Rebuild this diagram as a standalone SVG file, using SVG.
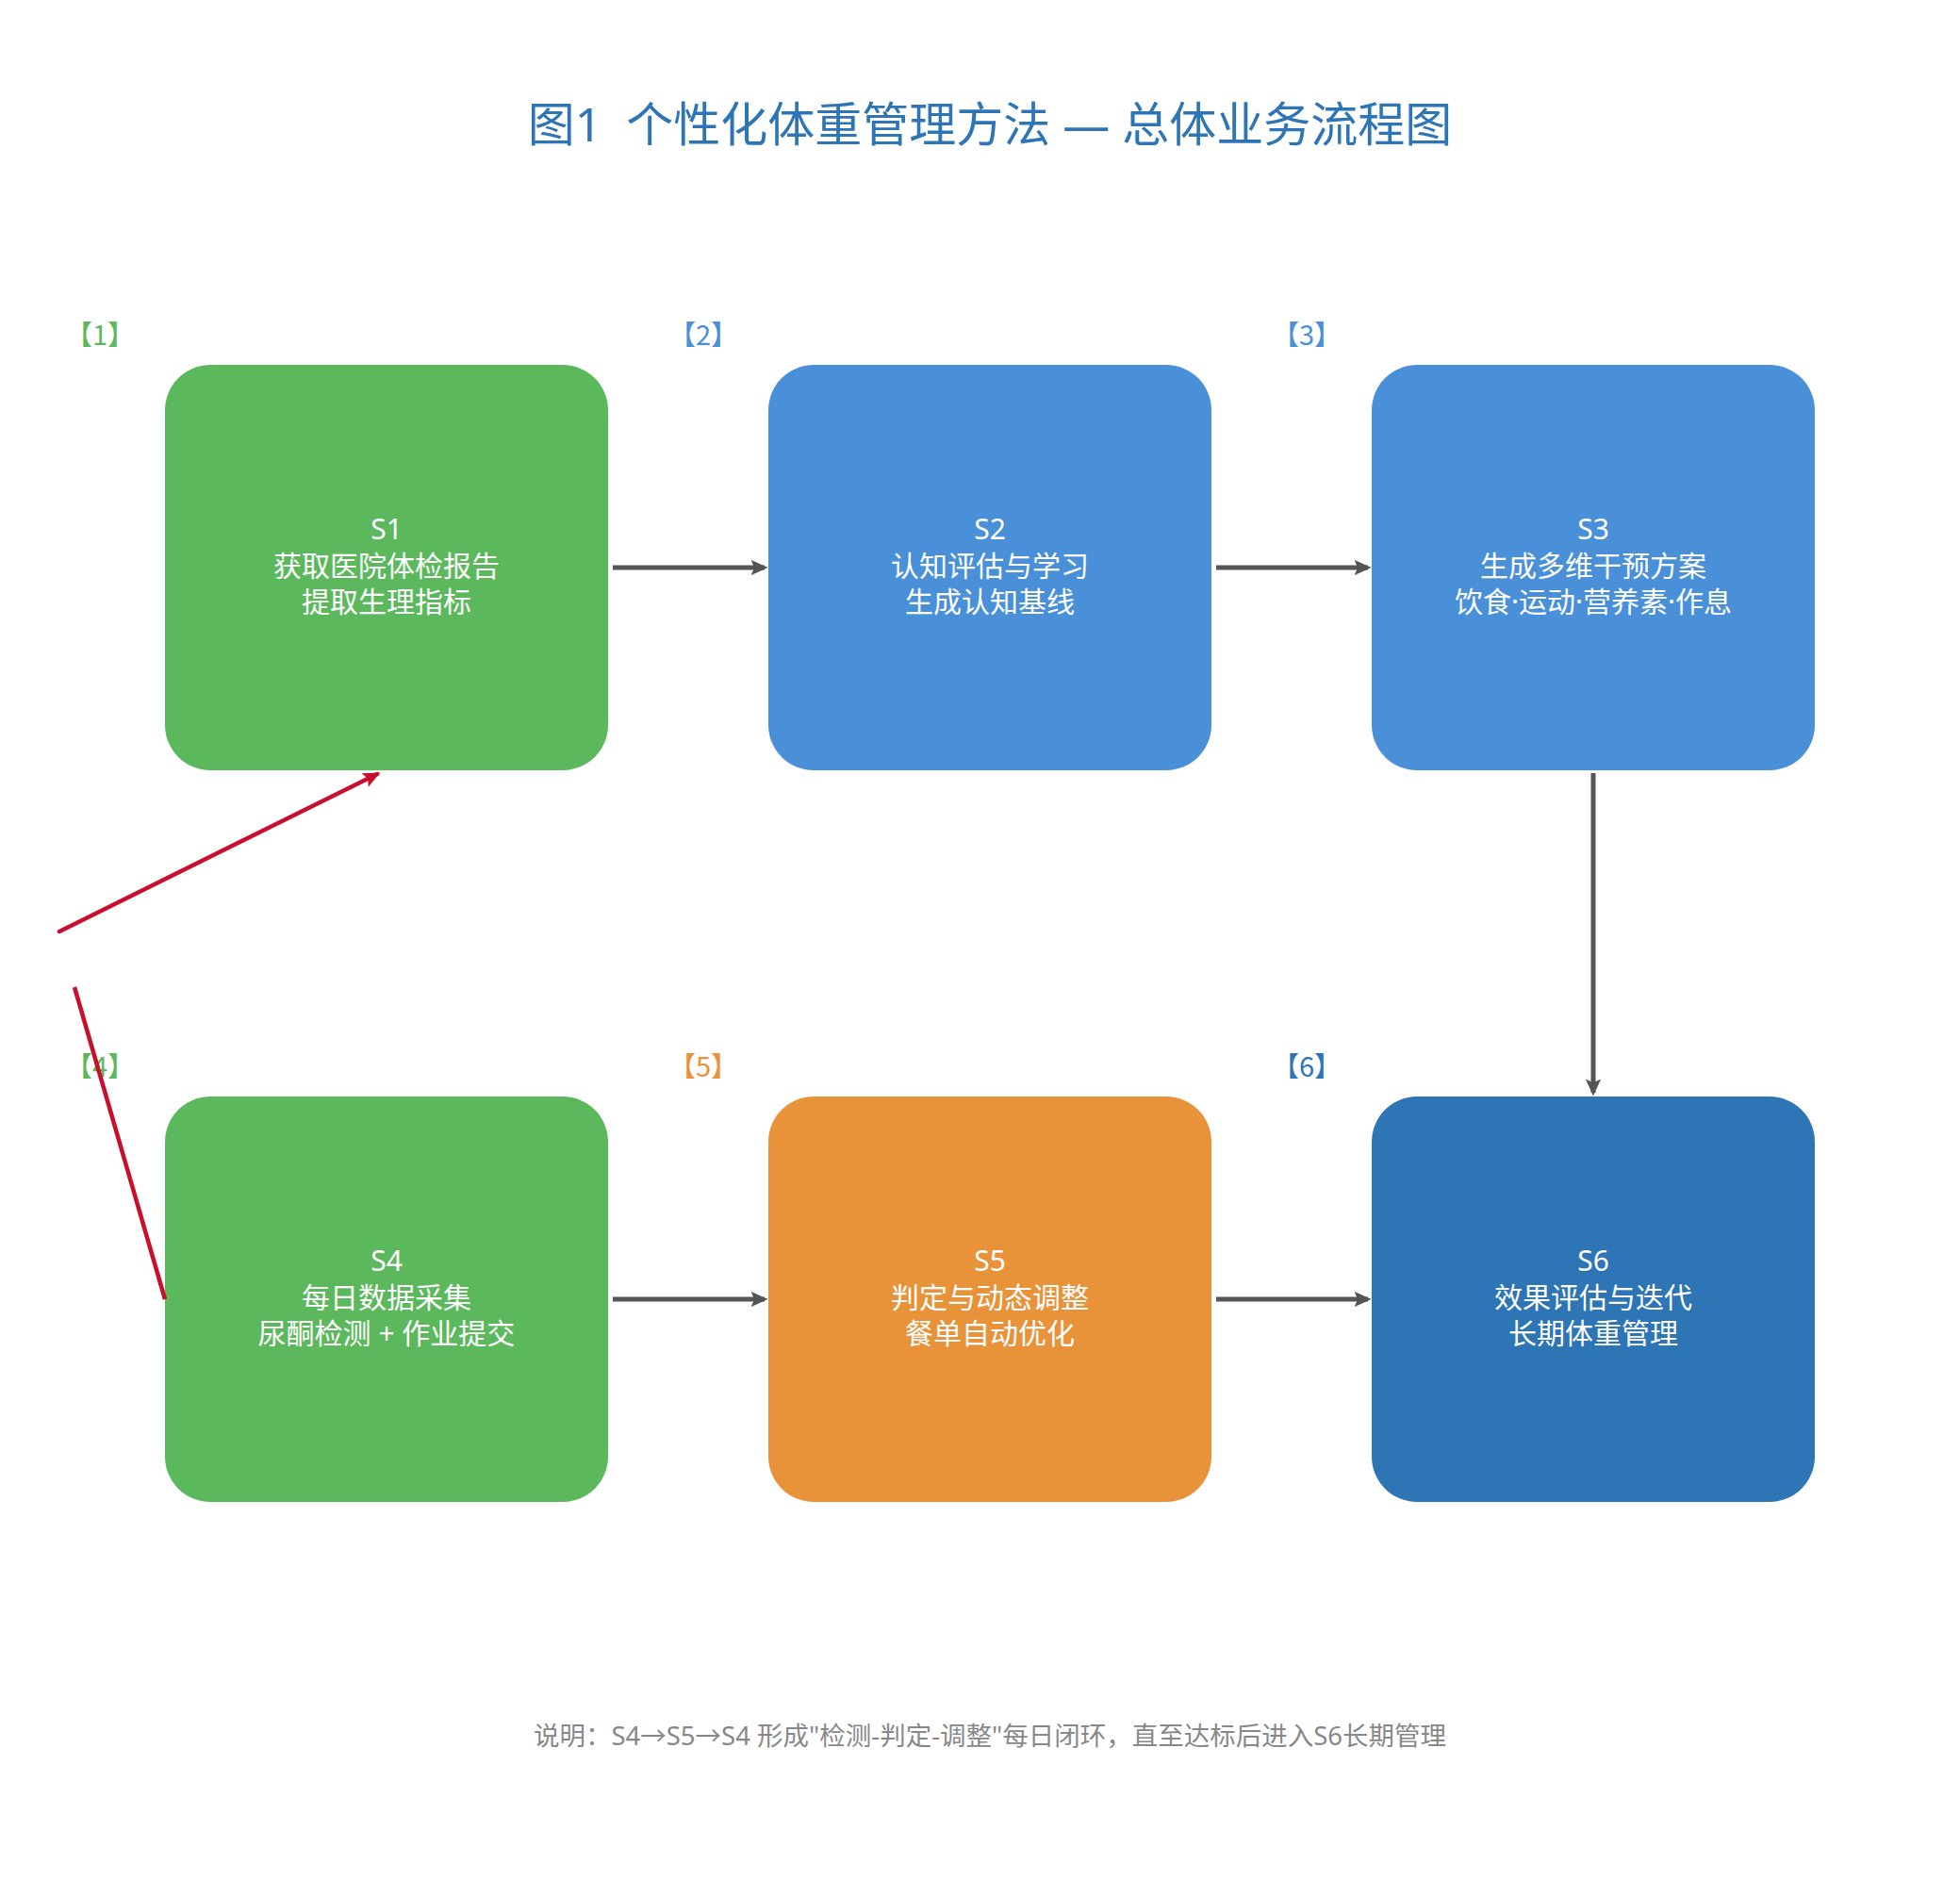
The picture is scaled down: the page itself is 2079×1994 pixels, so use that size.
<svg xmlns="http://www.w3.org/2000/svg" width="2079" height="1994" viewBox="0 0 2079 1994">
<defs>
<style>
text{font-family:"Noto Sans","Noto Sans CJK SC",sans-serif;}
.title{font-size:50px;fill:#2E75B6;text-anchor:middle;}
.nt{font-size:30px;fill:#FFFFFF;text-anchor:middle;}
.lbl{font-size:29px;text-anchor:middle;font-family:"Noto Sans CJK SC",sans-serif;}
.note{font-size:27.5px;fill:#888888;text-anchor:middle;}
.conn{stroke:#555555;stroke-width:5;fill:none;}
.red{stroke:#C8102E;stroke-width:4.5;fill:none;}
</style>
<marker id="ah" viewBox="0 0 10 10" refX="8" refY="5" markerWidth="3.6" markerHeight="3.6" orient="auto" markerUnits="strokeWidth">
<path d="M0,0.5 L10,5 L0,9.5 L2,5 Z" fill="#555555"/>
</marker>
<marker id="ahr" viewBox="0 0 10 10" refX="8" refY="5" markerWidth="4" markerHeight="4" orient="auto" markerUnits="strokeWidth">
<path d="M0,0.5 L10,5 L0,9.5 L2,5 Z" fill="#C8102E"/>
</marker>
</defs>
<rect width="2079" height="1994" fill="#FFFFFF"/>
<text class="title" x="1050" y="150" xml:space="preserve">图1  个性化体重管理方法 — 总体业务流程图</text>

<g id="S1">
<text class="lbl" x="106" y="366" fill="#5CB85C">【1】</text>
<rect x="175" y="387" width="470" height="430" rx="48" fill="#5CB85C"/>
<text class="nt" x="410" y="572">S1<tspan x="410" dy="39">获取医院体检报告</tspan><tspan x="410" dy="38">提取生理指标</tspan></text>
</g>
<g id="S2">
<text class="lbl" x="746" y="366" fill="#4A90D9">【2】</text>
<rect x="815" y="387" width="470" height="430" rx="48" fill="#4A90D9"/>
<text class="nt" x="1050" y="572">S2<tspan x="1050" dy="39">认知评估与学习</tspan><tspan x="1050" dy="38">生成认知基线</tspan></text>
</g>
<g id="S3">
<text class="lbl" x="1386" y="366" fill="#4A90D9">【3】</text>
<rect x="1455" y="387" width="470" height="430" rx="48" fill="#4A90D9"/>
<text class="nt" x="1690" y="572">S3<tspan x="1690" dy="39">生成多维干预方案</tspan><tspan x="1690" dy="38">饮食·运动·营养素·作息</tspan></text>
</g>
<g id="S4">
<text class="lbl" x="106" y="1142" fill="#5CB85C">【4】</text>
<rect x="175" y="1163" width="470" height="430" rx="48" fill="#5CB85C"/>
<text class="nt" x="410" y="1348">S4<tspan x="410" dy="39">每日数据采集</tspan><tspan x="410" dy="38">尿酮检测 + 作业提交</tspan></text>
</g>
<g id="S5">
<text class="lbl" x="746" y="1142" fill="#E8923A">【5】</text>
<rect x="815" y="1163" width="470" height="430" rx="48" fill="#E8923A"/>
<text class="nt" x="1050" y="1348">S5<tspan x="1050" dy="39">判定与动态调整</tspan><tspan x="1050" dy="38">餐单自动优化</tspan></text>
</g>
<g id="S6">
<text class="lbl" x="1386" y="1142" fill="#2E75B6">【6】</text>
<rect x="1455" y="1163" width="470" height="430" rx="48" fill="#2E75B6"/>
<text class="nt" x="1690" y="1348">S6<tspan x="1690" dy="39">效果评估与迭代</tspan><tspan x="1690" dy="38">长期体重管理</tspan></text>
</g>

<g id="connectors">
<line class="conn" x1="650" y1="602" x2="811" y2="602" marker-end="url(#ah)"/>
<line class="conn" x1="1290" y1="602" x2="1451" y2="602" marker-end="url(#ah)"/>
<line class="conn" x1="1690" y1="820" x2="1690" y2="1159" marker-end="url(#ah)"/>
<line class="conn" x1="650" y1="1378" x2="811" y2="1378" marker-end="url(#ah)"/>
<line class="conn" x1="1290" y1="1378" x2="1451" y2="1378" marker-end="url(#ah)"/>
<line class="red" x1="175" y1="1378" x2="79" y2="1047"/>
<line class="red" x1="63" y1="988" x2="400" y2="821" stroke-linecap="round" marker-end="url(#ahr)"/>
</g>

<text class="note" x="1050" y="1851">说明：S4→S5→S4 形成"检测-判定-调整"每日闭环，直至达标后进入S6长期管理</text>
</svg>
